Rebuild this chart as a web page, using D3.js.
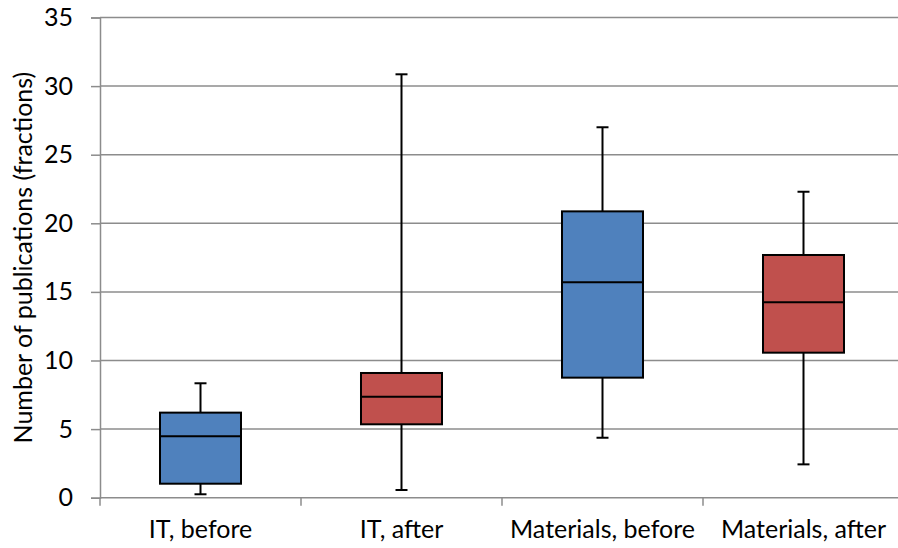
<!DOCTYPE html>
<html>
<head>
<meta charset="utf-8">
<script src="https://cdn.jsdelivr.net/npm/d3@7"></script>
<style>
  html, body { margin: 0; padding: 0; background: #fff; }
  svg { display: block; }
  text { font-family: Lato, "Open Sans", sans-serif; fill: #000; }
</style>
</head>
<body>
<svg id="chart" width="898" height="548"></svg>
<script>
// ---- data ----
const categories = ["IT, before", "IT, after", "Materials, before", "Materials, after"];
const whiskerLow  = [0.25, 0.56, 4.37, 2.43];
const q1          = [1.02, 5.35, 8.75, 10.57];
const median      = [4.47, 7.36, 15.70, 14.24];
const q3          = [6.20, 9.09, 20.87, 17.69];
const whiskerHigh = [8.34, 30.86, 27.0, 22.30];
const boxColors   = ["#4F81BD", "#C0504D", "#4F81BD", "#C0504D"];
const yTicks      = [0, 5, 10, 15, 20, 25, 30, 35];
const yTitle      = "Number of publications (fractions)";

(function () {
// ---- layout ----
const mLeft = 100, mRight = 904, mTop = 17.5, mBottom = 497.7;
const fontSize = 25;

const svg = d3.select("#chart");

const x = d3.scaleBand().domain(categories).range([mLeft, mRight]).padding(0);
const y = d3.scaleLinear().domain([0, 35]).range([mBottom, mTop]);

const gridColor = "#8c8c8c";

// gridlines
svg.append("g")
  .selectAll("line")
  .data(yTicks.filter(d => d > 0))
  .join("line")
  .attr("x1", mLeft).attr("x2", mRight)
  .attr("y1", d => y(d)).attr("y2", d => y(d))
  .attr("stroke", gridColor).attr("stroke-width", 1.5);

// y axis
const yAxis = svg.append("g")
  .attr("transform", `translate(${mLeft},0)`)
  .call(d3.axisLeft(y).tickValues(yTicks).tickSize(9).tickPadding(18).tickFormat(d3.format("d")));
yAxis.select(".domain").attr("stroke", gridColor).attr("stroke-width", 1.5);
yAxis.selectAll(".tick line").attr("stroke", gridColor).attr("stroke-width", 1.5);
yAxis.selectAll(".tick text").attr("font-size", fontSize).attr("font-family", "Lato, 'Open Sans', sans-serif").attr("fill", "#000");

// x axis with ticks at band boundaries
const xAxisG = svg.append("g");
xAxisG.append("line")
  .attr("x1", mLeft).attr("x2", mRight)
  .attr("y1", mBottom).attr("y2", mBottom)
  .attr("stroke", gridColor).attr("stroke-width", 1.5);
const bounds = categories.map(c => x(c)).concat([x(categories[categories.length - 1]) + x.bandwidth()]);
xAxisG.selectAll("line.tk")
  .data(bounds)
  .join("line")
  .attr("class", "tk")
  .attr("x1", d => d).attr("x2", d => d)
  .attr("y1", mBottom).attr("y2", mBottom + 8)
  .attr("stroke", gridColor).attr("stroke-width", 1.5);
xAxisG.selectAll("text")
  .data(categories)
  .join("text")
  .attr("x", d => x(d) + x.bandwidth() / 2)
  .attr("y", 538)
  .attr("text-anchor", "middle")
  .attr("font-size", fontSize)
  .text(d => d);

// y title
svg.append("text")
  .attr("transform", `translate(32, ${(mTop + mBottom) / 2}) rotate(-90)`)
  .attr("text-anchor", "middle")
  .attr("font-size", fontSize)
  .text(yTitle);

// boxes
const boxW = x.bandwidth() * 0.403;
const capW = 12;
const data = categories.map((c, i) => ({
  c, lo: whiskerLow[i], q1: q1[i], med: median[i], q3: q3[i], hi: whiskerHigh[i], color: boxColors[i]
}));

const g = svg.append("g").selectAll("g").data(data).join("g")
  .attr("transform", d => `translate(${x(d.c) + x.bandwidth() / 2},0)`);

// whiskers
g.append("line").attr("x1", 0).attr("x2", 0)
  .attr("y1", d => y(d.q3)).attr("y2", d => y(d.hi))
  .attr("stroke", "#000").attr("stroke-width", 2);
g.append("line").attr("x1", 0).attr("x2", 0)
  .attr("y1", d => y(d.q1)).attr("y2", d => y(d.lo))
  .attr("stroke", "#000").attr("stroke-width", 2);
g.append("line").attr("x1", -capW / 2).attr("x2", capW / 2)
  .attr("y1", d => y(d.hi)).attr("y2", d => y(d.hi))
  .attr("stroke", "#000").attr("stroke-width", 2);
g.append("line").attr("x1", -capW / 2).attr("x2", capW / 2)
  .attr("y1", d => y(d.lo)).attr("y2", d => y(d.lo))
  .attr("stroke", "#000").attr("stroke-width", 2);

// box
g.append("rect")
  .attr("x", -boxW / 2).attr("width", boxW)
  .attr("y", d => y(d.q3)).attr("height", d => y(d.q1) - y(d.q3))
  .attr("fill", d => d.color).attr("stroke", "#000").attr("stroke-width", 2);
// median
g.append("line").attr("x1", -boxW / 2).attr("x2", boxW / 2)
  .attr("y1", d => y(d.med)).attr("y2", d => y(d.med))
  .attr("stroke", "#000").attr("stroke-width", 2);
})();
</script>
</body>
</html>
